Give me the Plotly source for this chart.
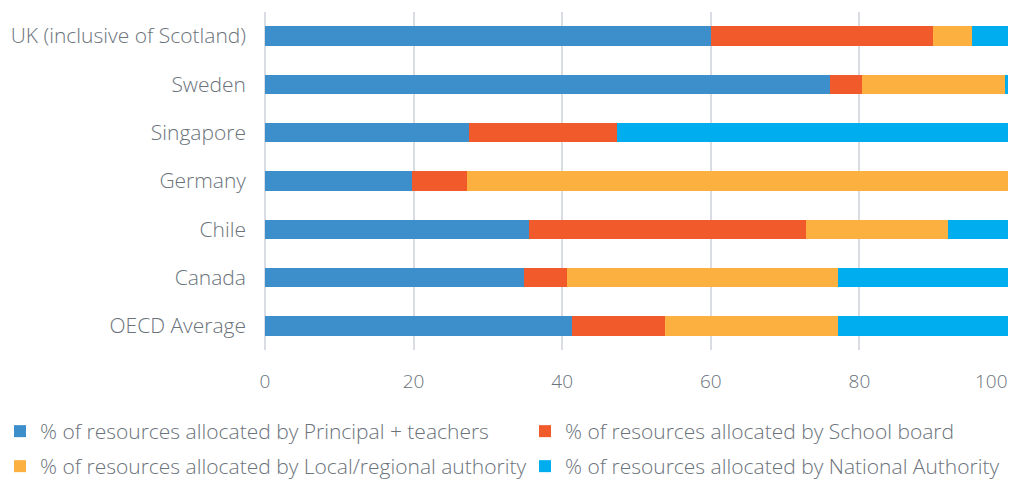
import plotly.graph_objects as go

categories = ["UK (inclusive of Scotland)", "Sweden", "Singapore", "Germany", "Chile", "Canada", "OECD Average"]
principal = [60.0, 76.0, 27.5, 19.8, 35.5, 34.9, 41.3]
school_board = [29.9, 4.3, 19.9, 7.4, 37.3, 5.7, 12.5]
local_regional = [5.3, 19.3, 0.0, 72.8, 19.1, 36.5, 23.3]
national = [4.8, 0.4, 52.6, 0.0, 8.1, 22.9, 22.9]
x_ticks = [0, 20, 40, 60, 80, 100]

series_names = [
    "% of resources allocated by Principal + teachers",
    "% of resources allocated by School board",
    "% of resources allocated by Local/regional authority",
    "% of resources allocated by National Authority",
]
colors = ["#3d8fcc", "#f15a2b", "#fbb040", "#00aeef"]
values = [principal, school_board, local_regional, national]
legend_ids = ["legend", "legend", "legend2", "legend2"]
legend_widths = [480, 420, 480, 430]

FONT = "Open Sans"
TXT = "#6b737b"
W, H = 1012, 479
ML, MR, MT, MB = 265, 4, 12, 129
PW, PH = W - ML - MR, H - MT - MB

fig = go.Figure()
for name, vals, col, lg, lw in zip(series_names, values, colors, legend_ids, legend_widths):
    fig.add_trace(go.Bar(
        y=categories, x=vals, name=name, orientation="h",
        marker=dict(color=col, line=dict(width=0)),
        legend=lg, legendwidth=lw,
    ))

tick_font = dict(family=FONT, size=19, color=TXT, weight=300)
# last tick label is kept inside the chart (right-aligned at the edge), like the original
tick_text = [str(v) for v in x_ticks[:-1]] + [""]
fig.add_annotation(
    x=x_ticks[-1], xref="x", y=0, yref="paper", yanchor="middle", xanchor="right",
    yshift=-31, xshift=2, text=str(x_ticks[-1]), showarrow=False, font=tick_font,
)

legend_font = dict(family=FONT, size=21, color=TXT, weight=300)
fig.update_layout(
    barmode="stack",
    bargap=0.6,
    width=W, height=H,
    margin=dict(l=ML, r=MR, t=MT, b=MB, autoexpand=False),
    plot_bgcolor="white", paper_bgcolor="white",
    font=dict(family=FONT, size=20, color=TXT, weight=300),
    xaxis=dict(
        range=[0, 100], tickvals=x_ticks, ticktext=tick_text,
        showgrid=True, gridcolor="#d9dde3", gridwidth=2,
        zeroline=True, zerolinecolor="#d9dde3", zerolinewidth=2,
        ticklabelstandoff=18, ticklabeloverflow="allow",
        tickfont=tick_font,
    ),
    yaxis=dict(
        categoryorder="array", categoryarray=categories[::-1],
        ticklabelstandoff=18, tickfont=dict(family=FONT, size=21, color=TXT, weight=300),
    ),
    legend=dict(
        orientation="h", x=-ML / PW, xanchor="left", y=-(411 - (MT + PH)) / PH, yanchor="top",
        traceorder="normal", font=legend_font, itemwidth=30,
    ),
    legend2=dict(
        orientation="h", x=-ML / PW, xanchor="left", y=-(446 - (MT + PH)) / PH, yanchor="top",
        traceorder="normal", font=legend_font, itemwidth=30,
    ),
)

fig.write_html("out.html", post_script="document.body.style.margin='0';",
               config={"displayModeBar": False})
